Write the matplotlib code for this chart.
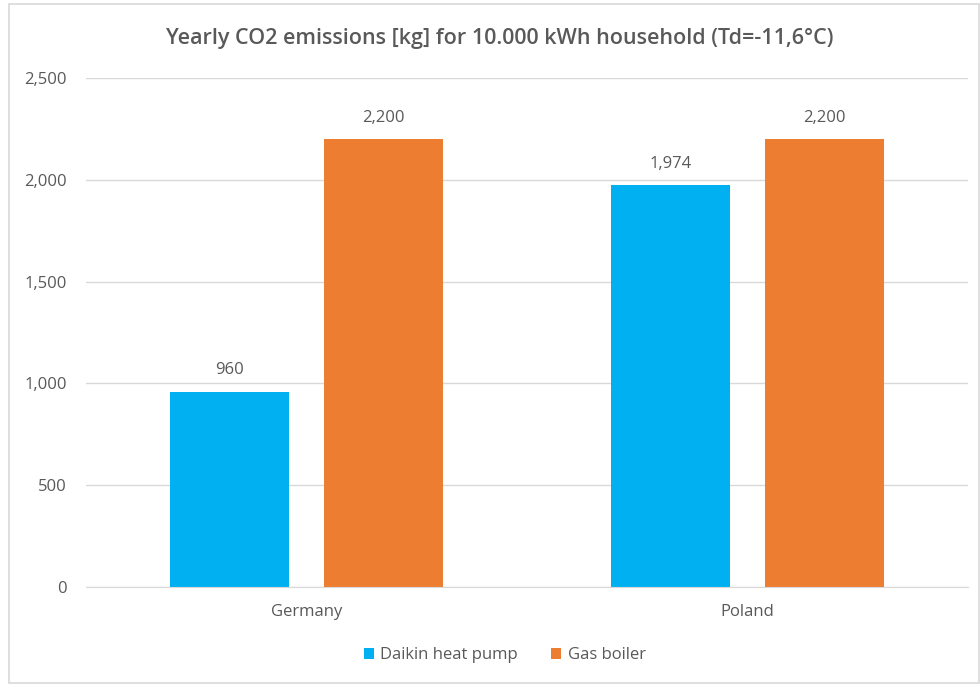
import matplotlib
matplotlib.use("Agg")
import matplotlib.pyplot as plt
from matplotlib.patches import Rectangle
from matplotlib.ticker import FuncFormatter
import numpy as np

countries = ["Germany", "Poland"]
heat_pump = [960, 1974]
gas_boiler = [2200, 2200]
series_names = ["Daikin heat pump", "Gas boiler"]
title = "Yearly CO2 emissions [kg] for 10.000 kWh household (Td=-11,6°C)"

BLUE = "#00b0f0"
ORANGE = "#ed7d31"
TXT = "#595959"
GRID = "#d9d9d9"

plt.rcParams["font.family"] = ["Open Sans", "DejaVu Sans"]

fig = plt.figure(figsize=(9.8, 6.84), dpi=100)
ax = fig.add_axes([0.0878, 0.1418, 0.9, 0.7442])

x = np.arange(len(countries))
w = 0.27
off = 0.175
b1 = ax.bar(x - off, heat_pump, w, color=BLUE, label=series_names[0])
b2 = ax.bar(x + off, gas_boiler, w, color=ORANGE, label=series_names[1])

# value labels above each bar
for bars in (b1, b2):
    for r in bars:
        h = r.get_height()
        ax.annotate(f"{h:,.0f}", (r.get_x() + r.get_width() / 2, h),
                    xytext=(0, 15.5), textcoords="offset points",
                    ha="center", va="center", fontsize=12, color=TXT)

ax.set_xlim(-0.5, 1.5)
ax.set_ylim(0, 2500)
ax.set_yticks(range(0, 2501, 500))
ax.yaxis.set_major_formatter(FuncFormatter(lambda v, p: f"{v:,.0f}"))
ax.set_xticks(x)
ax.set_xticklabels(countries)
ax.grid(axis="y", color=GRID, linewidth=1)
ax.set_axisbelow(True)
for s in ("top", "right", "left"):
    ax.spines[s].set_visible(False)
ax.spines["bottom"].set_color(GRID)
ax.tick_params(axis="both", length=0, labelsize=12, colors=TXT)
ax.tick_params(axis="y", pad=14)
ax.tick_params(axis="x", pad=12)

fig.text(0.51, 0.944, title, ha="center", va="center", fontsize=15.5,
         fontweight="semibold", color=TXT)

fig.legend(loc="center", bbox_to_anchor=(0.515, 0.042), ncol=2, frameon=False,
           fontsize=12, labelcolor=TXT, handlelength=0.6, handleheight=0.6,
           handletextpad=0.4, columnspacing=2.0)

# light chart-area border
fig.patches.append(Rectangle((9 / 980, 0.001), 1 - 9 / 980 - 0.001, 1 - 4 / 684 - 0.001,
                             transform=fig.transFigure, fill=False,
                             edgecolor=GRID, linewidth=1.2))

fig.savefig("out.png", dpi=100)
